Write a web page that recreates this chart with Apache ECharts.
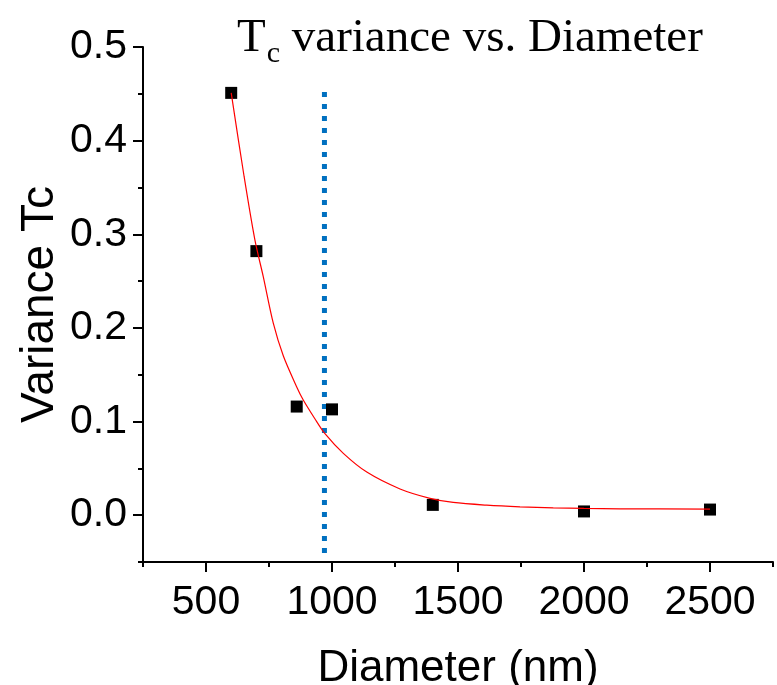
<!DOCTYPE html>
<html>
<head>
<meta charset="utf-8">
<script src="https://cdn.jsdelivr.net/npm/echarts@6/dist/echarts.min.js"></script>
<style>
  html, body { margin: 0; padding: 0; background: #fff; }
  #chart { width: 777px; height: 685px; }
</style>
</head>
<body>
<div id="chart"></div>
<script>
// measured points
var diameter = [600, 700, 860, 1000, 1400, 2000, 2500];
var variance = [0.451, 0.282, 0.116, 0.113, 0.011, 0.004, 0.006];

// red fit curve
var fitX = [600, 651, 694, 727, 767, 807, 860, 886, 932, 972, 1045, 1138, 1270, 1389, 1481, 1614, 1746, 1878, 2000, 2143, 2500];
var fitY = [0.451, 0.362, 0.294, 0.255, 0.205, 0.170, 0.137, 0.123, 0.103, 0.087, 0.066, 0.046, 0.028, 0.018, 0.0136, 0.0107, 0.0089, 0.0078, 0.0072, 0.0068, 0.0065];

// blue dotted marker line
var cutX = [970, 970];
var cutY = [0.452, -0.046];

// ticks
var xMajor = [500, 1000, 1500, 2000, 2500];
var xMinor = [250, 750, 1250, 1750, 2250, 2750];
var yMajor = [0, 0.1, 0.2, 0.3, 0.4, 0.5];
var yMinor = [-0.05, 0.05, 0.15, 0.25, 0.35, 0.45];

function pairs(xs, ys) {
  return xs.map(function (x, i) { return [x, ys[i]]; });
}

var sans = 'Liberation Sans';
var chart = echarts.init(document.getElementById('chart'));

chart.setOption({
  animation: false,
  backgroundColor: '#fff',
  title: {
    text: '{t|T}{s|c}{t| variance vs. Diameter}',
    left: 232,
    top: 4,
    textStyle: {
      rich: {
        t: { fontFamily: 'Liberation Serif', fontWeight: 'normal', fontSize: 47, color: '#000', lineHeight: 50 },
        s: { fontFamily: 'Liberation Serif', fontWeight: 'normal', fontSize: 30, color: '#000', padding: [30, 0, 0, 1] }
      }
    }
  },
  grid: { left: 143, top: 47, right: 4, bottom: 123, containLabel: false, outerBoundsMode: 'none' },
  xAxis: [
    {
      type: 'value', min: 250, max: 2750,
      name: 'Diameter (nm)', nameLocation: 'middle', nameGap: 85,
      nameTextStyle: { fontFamily: sans, fontSize: 44, color: '#000' },
      axisLine: { onZero: false, lineStyle: { color: '#000', width: 2 } },
      axisTick: { customValues: xMajor, length: 10, lineStyle: { color: '#000', width: 2 } },
      axisLabel: {
        customValues: xMajor, margin: 20, fontFamily: sans, fontSize: 41, color: '#000',
        formatter: function (v) { return String(v); }
      },
      splitLine: { show: false }
    },
    {
      type: 'value', min: 250, max: 2750, position: 'bottom',
      axisLine: { show: false, onZero: false },
      axisTick: { customValues: xMinor, length: 5, lineStyle: { color: '#000', width: 2 } },
      axisLabel: { show: false },
      splitLine: { show: false }
    }
  ],
  yAxis: [
    {
      type: 'value', min: -0.05, max: 0.5,
      name: 'Variance Tc', nameLocation: 'middle', nameGap: 80, nameMoveOverlap: false,
      nameTextStyle: { fontFamily: sans, fontSize: 46, color: '#000' },
      axisLine: { show: true, onZero: false, lineStyle: { color: '#000', width: 2 } },
      axisTick: { show: true, customValues: yMajor, length: 10, lineStyle: { color: '#000', width: 2 } },
      axisLabel: {
        customValues: yMajor, margin: 16, fontFamily: sans, fontSize: 41, color: '#000',
        formatter: function (v) { return v.toFixed(1); }
      },
      splitLine: { show: false }
    },
    {
      type: 'value', min: -0.05, max: 0.5, position: 'left',
      axisLine: { show: false, onZero: false },
      axisTick: { show: true, customValues: yMinor, length: 5, lineStyle: { color: '#000', width: 2 } },
      axisLabel: { show: false },
      splitLine: { show: false }
    }
  ],
  series: [
    {
      type: 'line',
      data: pairs(cutX, cutY),
      symbol: 'none',
      lineStyle: { color: '#0070C0', width: 5, type: [5, 7], cap: 'butt' },
      z: 1
    },
    {
      type: 'scatter',
      data: pairs(diameter, variance),
      symbol: 'rect',
      symbolSize: 12,
      itemStyle: { color: '#000', opacity: 1 },
      z: 2
    },
    {
      type: 'line',
      data: pairs(fitX, fitY),
      symbol: 'none',
      smooth: 0.3,
      lineStyle: { color: '#ff0000', width: 1.2 },
      z: 3
    }
  ]
});
</script>
</body>
</html>
